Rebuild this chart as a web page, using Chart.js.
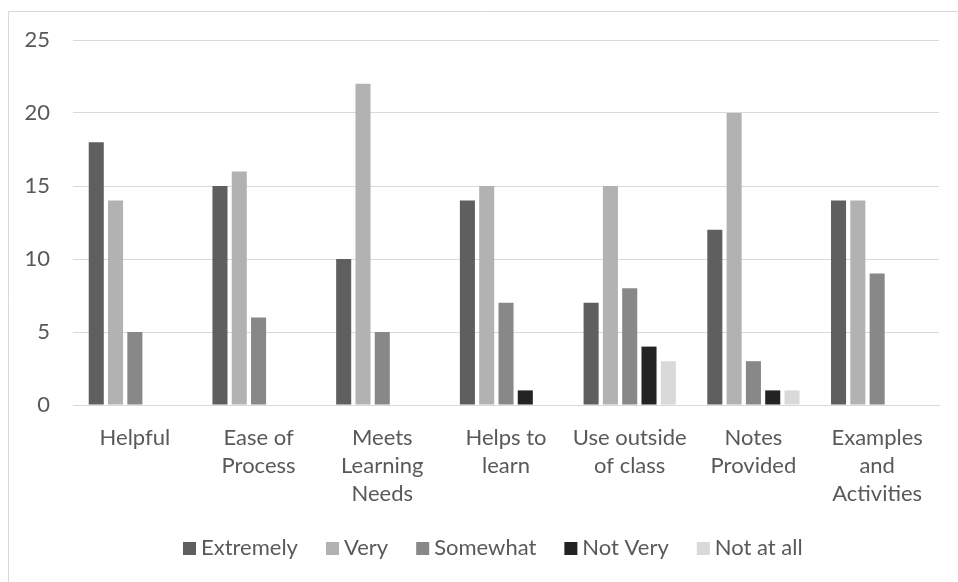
<!DOCTYPE html>
<html>
<head>
<meta charset="utf-8">
<script src="https://cdn.jsdelivr.net/npm/chart.js@4.4.0/dist/chart.umd.min.js"></script>
<style>
  html, body { margin: 0; padding: 0; background: #ffffff; }
  #wrap { position: relative; width: 958px; height: 582px; }
</style>
</head>
<body>
<div id="wrap"><canvas id="chart" width="958" height="582"></canvas></div>
<script>
// Survey responses per aspect
const categories = [
  ["Helpful"],
  ["Ease of", "Process"],
  ["Meets", "Learning", "Needs"],
  ["Helps to", "learn"],
  ["Use outside", "of class"],
  ["Notes", "Provided"],
  ["Examples", "and", "Activities"]
];
const seriesNames = ["Extremely", "Very", "Somewhat", "Not Very", "Not at all"];
const extremely = [18, 15, 10, 14, 7, 12, 14];
const very      = [14, 16, 22, 15, 15, 20, 14];
const somewhat  = [5, 6, 5, 7, 8, 3, 9];
const notVery   = [0, 0, 0, 1, 4, 1, 0];
const notAtAll  = [0, 0, 0, 0, 3, 1, 0];
const yTicks = [0, 5, 10, 15, 20, 25];

const colors = ["#5f5f5f", "#b2b2b2", "#888888", "#232323", "#d9d9d9"];
const values = [extremely, very, somewhat, notVery, notAtAll];

const FONT = "Lato, 'Liberation Sans', sans-serif";
const TEXT = "#595959";

// Legend swatch: a small square sitting close to its label text
function swatch(color) {
  const c = document.createElement('canvas');
  c.width = 34;
  c.height = 13;
  const g = c.getContext('2d');
  g.fillStyle = color;
  g.fillRect(16, 0, 13, 13);
  return c;
}

// Frame lines along the left and top edges of the chart
const framePlugin = {
  id: 'frame',
  beforeDraw(chart) {
    const ctx = chart.ctx;
    ctx.save();
    ctx.fillStyle = '#ffffff';
    ctx.fillRect(0, 0, chart.width, chart.height);
    ctx.strokeStyle = '#d9d9d9';
    ctx.lineWidth = 1;
    ctx.beginPath();
    ctx.moveTo(8.5, chart.height);
    ctx.lineTo(8.5, 11.5);
    ctx.lineTo(chart.width, 11.5);
    ctx.stroke();
    ctx.restore();
  }
};

// Start the legend row a little further right
const legendShift = {
  id: 'legendShift',
  afterLayout(chart) {
    if (chart.legend) chart.legend.left = 155;
  }
};

new Chart(document.getElementById('chart'), {
  type: 'bar',
  data: {
    labels: categories,
    datasets: seriesNames.map((name, i) => ({
      label: name,
      data: values[i],
      backgroundColor: colors[i],
      borderWidth: 0,
      categoryPercentage: 0.78,
      barPercentage: 0.78,
      pointStyle: swatch(colors[i])
    }))
  },
  options: {
    responsive: false,
    animation: false,
    devicePixelRatio: 1,
    layout: { padding: { left: 8, right: 19, top: 40, bottom: 13 } },
    plugins: {
      tooltip: { enabled: false },
      legend: {
        position: 'bottom',
        align: 'start',
        labels: {
          usePointStyle: true,
          boxWidth: 12,
          boxHeight: 12,
          padding: 23,
          color: TEXT,
          font: { family: FONT, size: 22 }
        }
      }
    },
    scales: {
      x: {
        grid: { display: false, drawTicks: false },
        border: { display: true, color: '#d9d9d9', width: 1 },
        ticks: {
          color: TEXT,
          font: { family: FONT, size: 22, lineHeight: '28px' },
          padding: 19,
          maxRotation: 0,
          autoSkip: false
        },
        afterFit(scale) { scale.height = 109; }
      },
      y: {
        min: 0,
        max: 25,
        afterBuildTicks(scale) { scale.ticks = yTicks.map(v => ({ value: v })); },
        grid: { color: '#d9d9d9', lineWidth: 1, drawTicks: false },
        border: { display: false },
        ticks: {
          color: TEXT,
          font: { family: FONT, size: 22 },
          padding: 23
        },
        afterFit(scale) { scale.width = 65; }
      }
    }
  },
  plugins: [framePlugin, legendShift]
});
</script>
</body>
</html>
